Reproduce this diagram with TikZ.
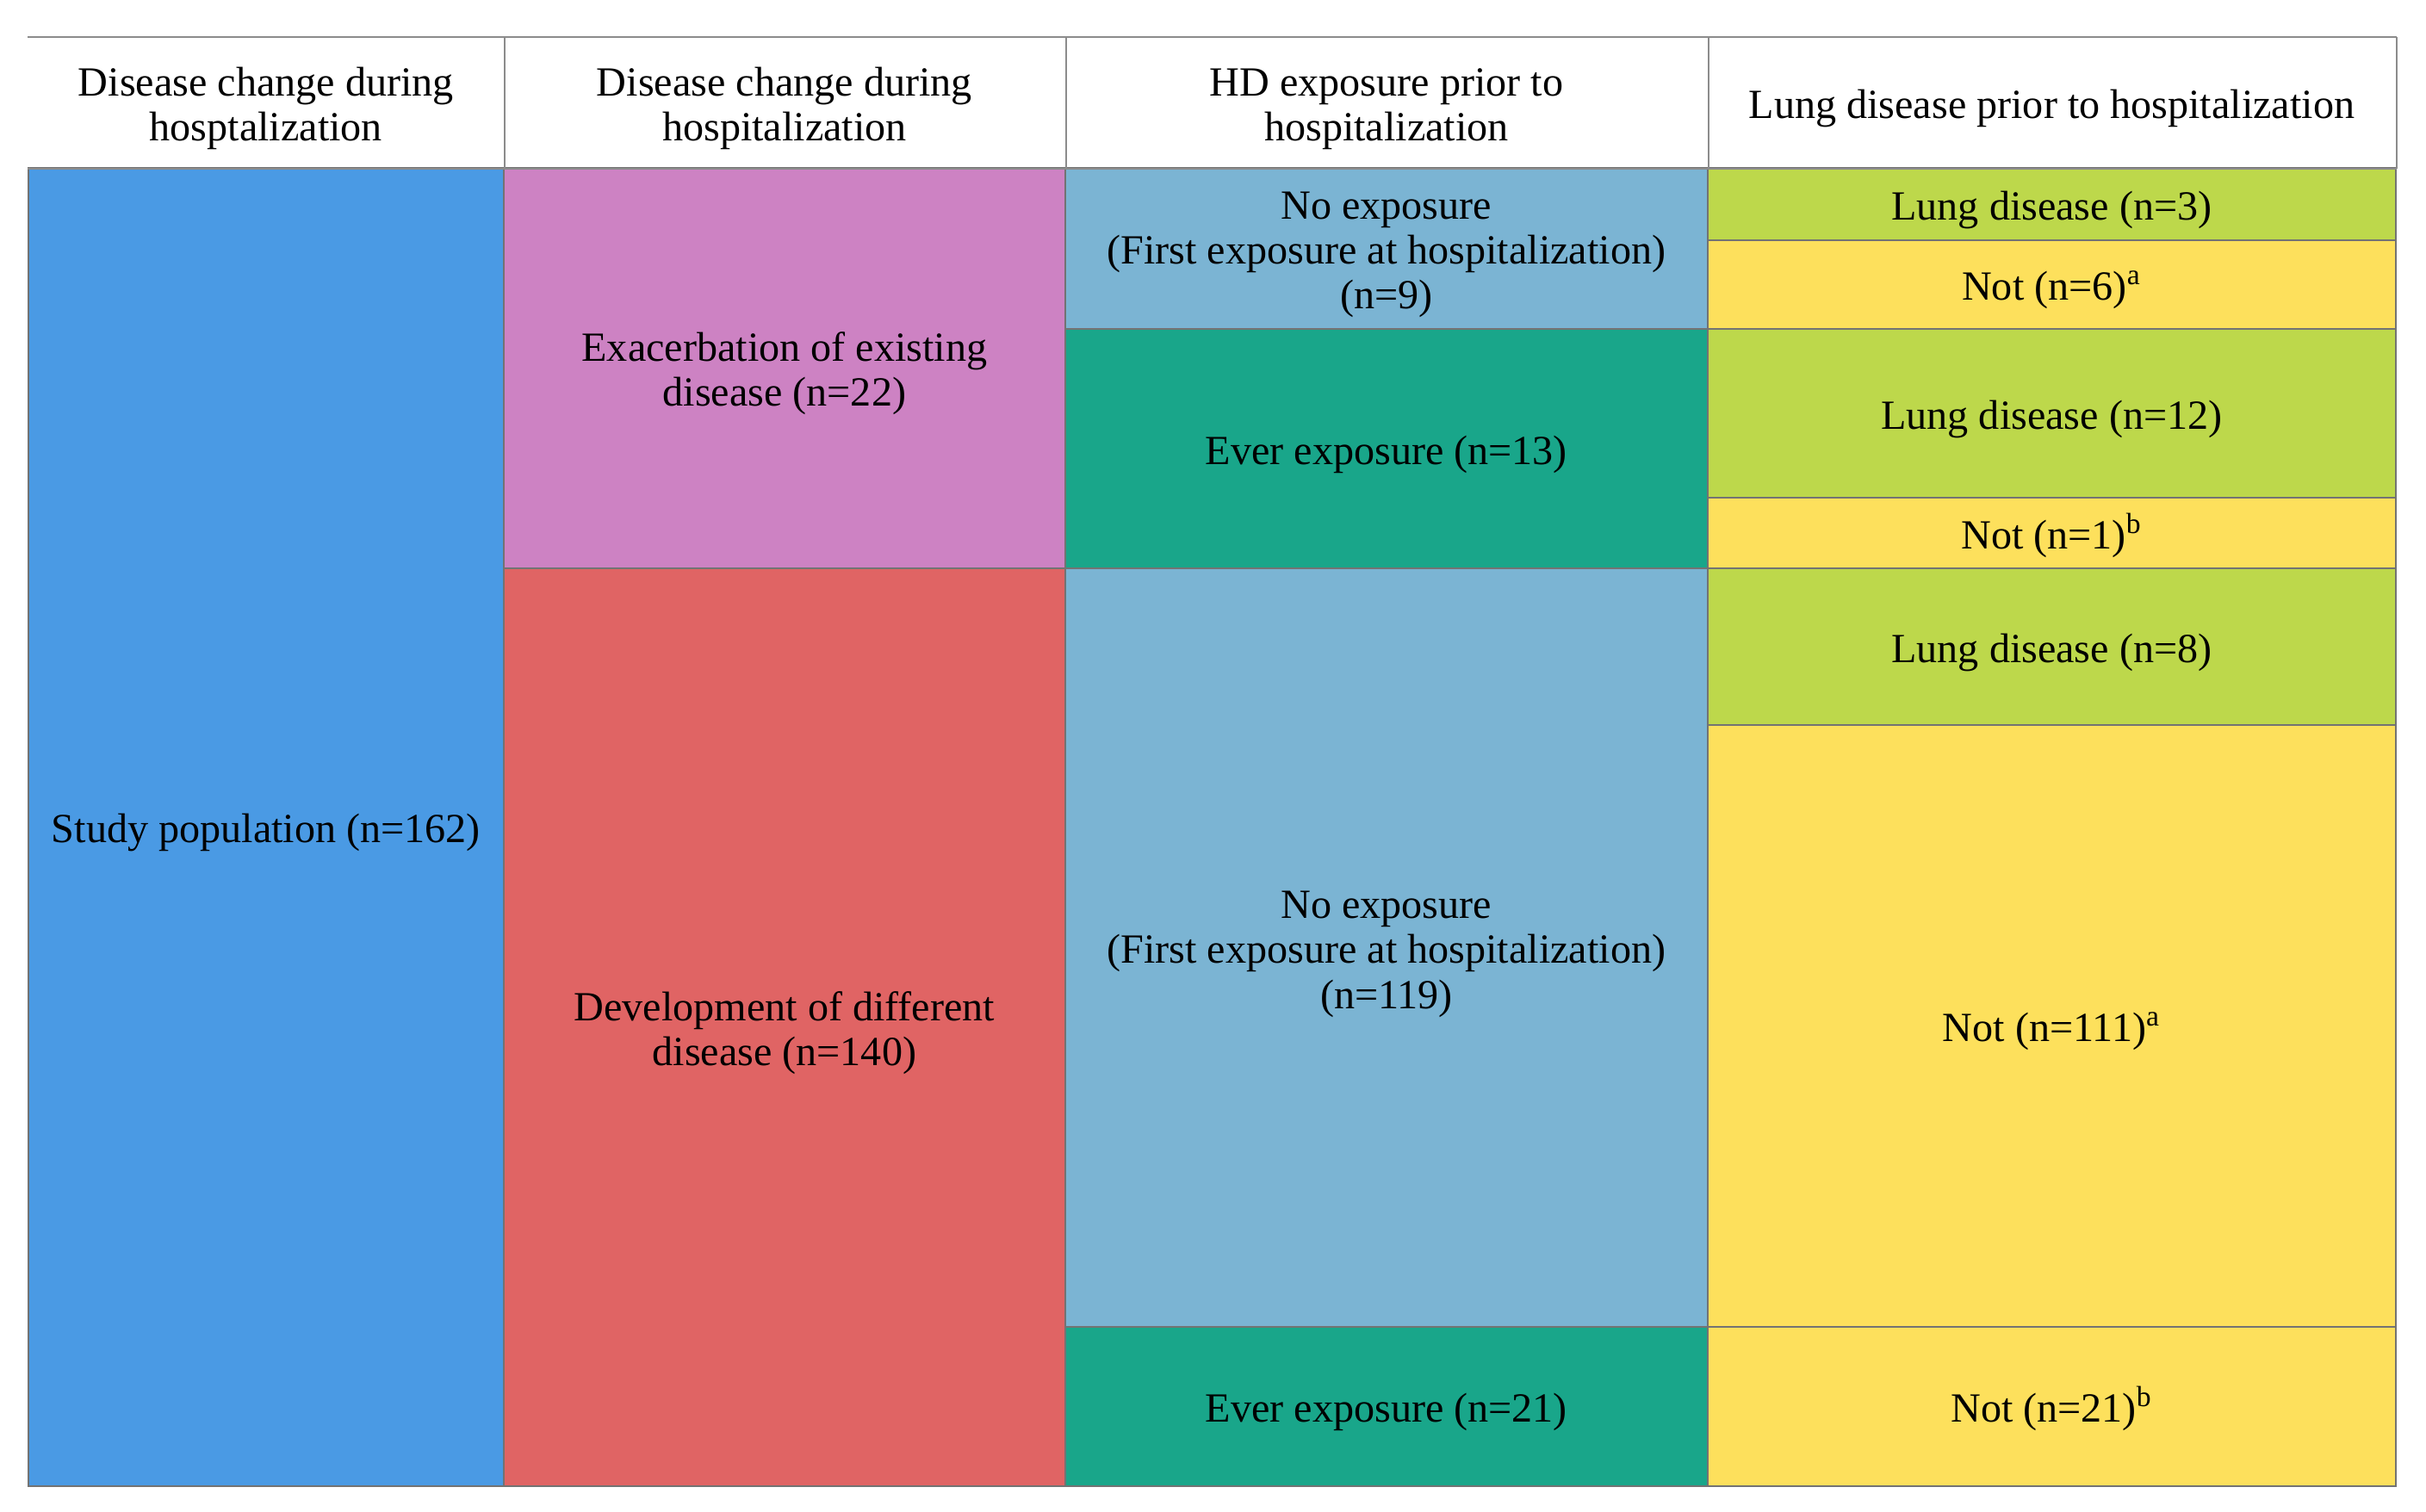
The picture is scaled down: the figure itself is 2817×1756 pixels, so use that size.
\documentclass[tikz,border=0pt]{standalone}
\usepackage{fontspec}
\setmainfont{Liberation Serif}
\usetikzlibrary{positioning}

\definecolor{popblue}{HTML}{4A9AE4}
\definecolor{exacpink}{HTML}{CD82C3}
\definecolor{develred}{HTML}{E06464}
\definecolor{noexpblue}{HTML}{7BB4D3}
\definecolor{everteal}{HTML}{19A68A}
\definecolor{lunggreen}{HTML}{BDD84B}
\definecolor{notyellow}{HTML}{FDE05C}

\newcommand{\cellstrut}{\rule{0pt}{13.5pt}}

\begin{document}
\begin{tikzpicture}[x=0.1mm, y=-0.1mm,
  cell/.style={draw=black!55, line width=0.5pt, inner sep=0pt, anchor=north west,
    align=center, font=\fontsize{13.7}{14.8}\selectfont},
  head/.style={cell, draw=none},
  rule/.style={draw=black!45, line width=0.7pt}]
\useasboundingbox (0,0) rectangle (2817,1756);

% header row
\node[head, minimum width=55.2mm, minimum height=15.1mm] (h1) at (32,43) {\cellstrut Disease change during\\hosptalization};
\node[head, minimum width=65.2mm, minimum height=15.1mm] (h2) at (584,43) {\cellstrut Disease change during\\hospitalization};
\node[head, minimum width=74.6mm, minimum height=15.1mm] (h3) at (1236,43) {\cellstrut HD exposure prior to\\hospitalization};
\node[head, minimum width=79.9mm, minimum height=15.1mm] (h4) at (1982,43) {\cellstrut Lung disease prior to hospitalization};

% first and second column
\node[cell, fill=popblue, minimum width=55.2mm, minimum height=153.1mm] (study) at (32,194) {\cellstrut Study population (n=162)};
\node[cell, fill=exacpink, minimum width=65.2mm, minimum height=46.5mm] (exac) at (584,194) {\cellstrut Exacerbation of existing\\disease (n=22)};
\node[cell, fill=develred, minimum width=65.2mm, minimum height=106.6mm] (devel) at (584,659) {\cellstrut Development of different\\disease (n=140)};

% HD exposure
\node[cell, fill=noexpblue, minimum width=74.6mm, minimum height=18.7mm] (noexpA) at (1236,194) {\cellstrut No exposure\\(First exposure at hospitalization)\\(n=9)};
\node[cell, fill=everteal, minimum width=74.6mm, minimum height=27.8mm] (everA) at (1236,381) {\cellstrut Ever exposure (n=13)};
\node[cell, fill=noexpblue, minimum width=74.6mm, minimum height=88.1mm] (noexpB) at (1236,659) {\cellstrut No exposure\\(First exposure at hospitalization)\\(n=119)};
\node[cell, fill=everteal, minimum width=74.6mm, minimum height=18.5mm] (everB) at (1236,1540) {\cellstrut Ever exposure (n=21)};

% lung disease
\node[cell, fill=lunggreen, minimum width=79.9mm, minimum height=8.4mm] (lungA) at (1982,194) {\cellstrut Lung disease (n=3)};
\node[cell, fill=notyellow, minimum width=79.9mm, minimum height=10.3mm] (notA) at (1982,278) {\cellstrut Not (n=6)\textsuperscript{a}};
\node[cell, fill=lunggreen, minimum width=79.9mm, minimum height=19.6mm] (lungB) at (1982,381) {\cellstrut Lung disease (n=12)};
\node[cell, fill=notyellow, minimum width=79.9mm, minimum height=8.2mm] (notB) at (1982,577) {\cellstrut Not (n=1)\textsuperscript{b}};
\node[cell, fill=lunggreen, minimum width=79.9mm, minimum height=18.2mm] (lungC) at (1982,659) {\cellstrut Lung disease (n=8)};
\node[cell, fill=notyellow, minimum width=79.9mm, minimum height=69.9mm] (notC) at (1982,841) {\cellstrut Not (n=111)\textsuperscript{a}};
\node[cell, fill=notyellow, minimum width=79.9mm, minimum height=18.5mm] (notD) at (1982,1540) {\cellstrut Not (n=21)\textsuperscript{b}};

% header rules
\draw[rule] (h1.north west) -- (h4.north east);
\draw[rule] (h1.south west) -- (h4.south east);
\draw[rule] (h1.north east) -- (h1.south east);
\draw[rule] (h2.north east) -- (h2.south east);
\draw[rule] (h3.north east) -- (h3.south east);
\draw[rule] (h4.north east) -- (h4.south east);
\end{tikzpicture}
\end{document}
